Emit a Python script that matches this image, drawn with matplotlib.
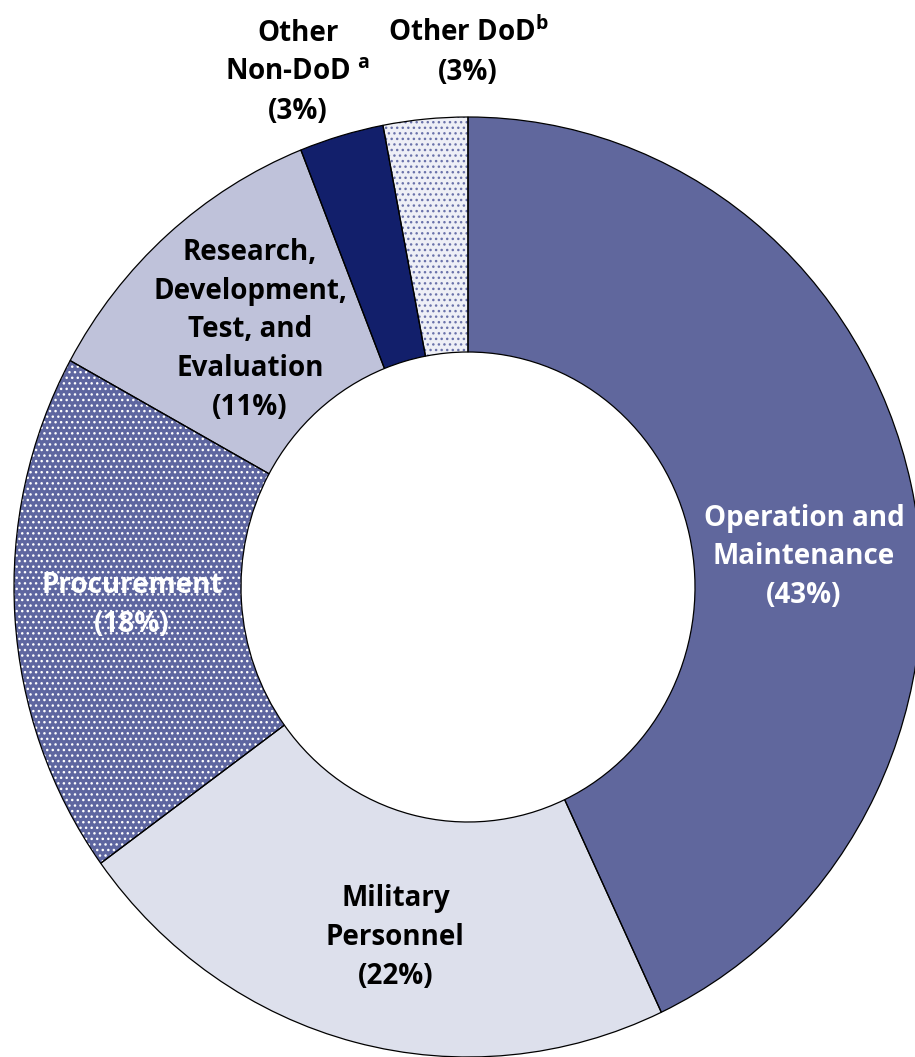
import matplotlib
matplotlib.use("Agg")
import matplotlib.pyplot as plt

# budget shares, clockwise from 12 o'clock
categories = ["Operation and\nMaintenance", "Military\nPersonnel", "Procurement",
              "Research,\nDevelopment,\nTest, and\nEvaluation", "Other\nNon-DoD $^{\\rm a}$",
              "Other DoD$^{\\rm b}$"]
shares = [43, 22, 18, 11, 3, 3]

colors = ["#60679d", "#dde0ec", "#5e66a0", "#bfc2da", "#121f6b", "#eeeff6"]
hatch_colors = [None, None, "#ffffff", None, None, "#6a72aa"]
text_colors = ["white", "black", "white", "black", "black", "black"]
label_pos = [(0.74, 0.064), (-0.16, -0.745), (-0.74, -0.038), (-0.48, 0.547), (-0.375, 1.094), (0.0, 1.138)]

plt.rcParams["font.family"] = ["Open Sans", "DejaVu Sans"]
plt.rcParams["font.weight"] = "bold"
plt.rcParams["mathtext.fontset"] = "custom"
plt.rcParams["mathtext.rm"] = "Open Sans:bold"
plt.rcParams["hatch.linewidth"] = 1.0

fig = plt.figure(figsize=(9.15, 10.57), dpi=100)
ax = fig.add_axes([0, 0, 1, 1])

# fill + hatch layer (hatch takes edge colour, edge itself hidden)
wedges, _ = ax.pie(shares, startangle=90, counterclock=False, colors=colors,
                   radius=1.0, wedgeprops=dict(width=0.5, linewidth=0))
for w, hc in zip(wedges, hatch_colors):
    if hc:
        w.set_hatch("...")
        w.set_edgecolor(hc)

# outline layer
ax.pie(shares, startangle=90, counterclock=False, radius=1.0,
       wedgeprops=dict(width=0.5, fill=False, edgecolor="black", linewidth=0.9))

ax.set_aspect("auto")
ax.set_xlim(-468 / 454, 447 / 454)
ax.set_ylim(-1.0, 587 / 470)
ax.axis("off")

for lab, pct, (x, y), tc in zip(categories, shares, label_pos, text_colors):
    ax.text(x, y, f"{lab}\n({pct}%)", ha="center", va="center", color=tc,
            fontsize=20, fontweight="bold", linespacing=1.45)

fig.savefig("out.png", dpi=100)
